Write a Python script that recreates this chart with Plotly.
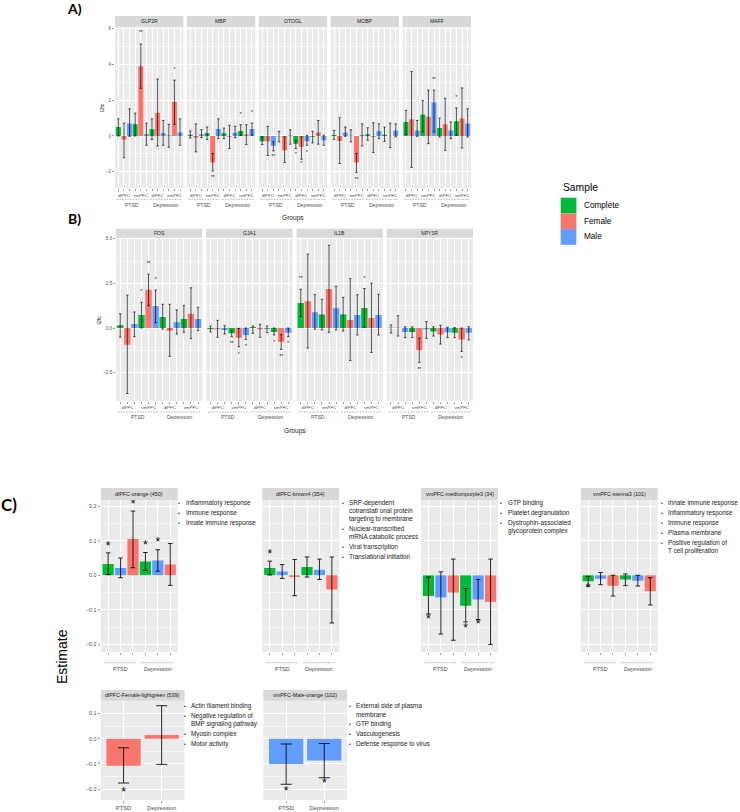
import plotly.graph_objects as go

W, H = 740, 812
FONT = "Liberation Sans, Arial, Helvetica, sans-serif"
PANEL_BG = "#EBEBEB"
STRIP_BG = "#D9D9D9"
TICK_TXT = "#4D4D4D"
COLORS = {"Complete": "#00BA38", "Female": "#F8766D", "Male": "#619CFF"}
LEGEND_ORDER = ["Complete", "Female", "Male"]
GROUP_LABELS = ["PTSD", "Depression"]

# ---------------- Panel A / B shared x layout ----------------
AB_SAMPLES = ["Complete", "Female", "Male"] * 4
AB_REGION_LABELS = ["", "dlPFC", "", "", "vmPFC", "", "", "dlPFC", "", "", "vmPFC", ""]

# ---------------- Panel A data (l2fc, CI low, CI high, significance) ----------------
A_GENES = ["GLP2R", "MBP", "OTOGL", "MOBP", "MAFF"]

GLP2R_L2FC = [0.50, -0.20, 0.70, 0.65, 3.90, 0.10, 0.37, 1.30, 0.15, 0.02, 1.90, 0.20]
GLP2R_LO = [0.00, -1.22, -0.02, 0.00, 2.67, -0.52, -0.20, -0.57, -0.52, -0.63, 0.65, -0.52]
GLP2R_HI = [0.96, 0.72, 1.52, 1.28, 5.15, 0.72, 0.96, 3.19, 0.87, 0.65, 3.13, 0.96]
GLP2R_SIG = ["", "", "", "", "**", "", "", "", "", "", "*", ""]
GLP2R_SIG_Y = [None, None, None, None, 5.75, None, None, None, None, None, 3.72, None]

MBP_L2FC = [0.07, -0.10, 0.10, 0.15, -1.48, 0.39, 0.15, -0.05, 0.18, 0.28, 0.08, 0.39]
MBP_LO = [-0.11, -0.89, -0.09, -0.20, -1.96, -0.15, -0.15, -0.70, -0.10, 0.04, -0.48, 0.04]
MBP_HI = [0.28, 0.68, 0.35, 0.50, -0.98, 0.96, 0.44, 0.60, 0.54, 0.63, 0.63, 0.72]
MBP_SIG = ["", "", "", "", "**", "", "", "", "", "*", "", "*"]
MBP_SIG_Y = [None, None, None, None, -2.37, None, None, None, None, 1.18, None, 1.30]

OTOGL_L2FC = [-0.30, -0.30, -0.55, -0.02, -0.80, 0.02, -0.43, -0.60, -0.30, -0.05, 0.20, -0.24]
OTOGL_LO = [-0.48, -1.09, -0.83, -0.33, -1.48, -0.46, -0.70, -1.30, -0.52, -0.39, -0.46, -0.52]
OTOGL_HI = [-0.05, 0.54, -0.33, 0.26, -0.05, 0.35, -0.24, -0.05, 0.04, 0.26, 0.87, 0.04]
OTOGL_SIG = ["", "", "**", "", "", "", "*", "*", "*", "", "", ""]
OTOGL_SIG_Y = [None, None, -1.17, None, None, None, -1.07, -1.54, -0.94, None, None, None]

MOBP_L2FC = [0.05, -0.28, 0.20, 0.01, -1.48, 0.05, 0.09, -0.05, 0.26, 0.07, 0.01, 0.31]
MOBP_LO = [-0.19, -1.54, -0.02, -0.33, -2.04, -0.56, -0.24, -0.93, -0.15, -0.30, -0.65, -0.05]
MOBP_HI = [0.31, 1.02, 0.50, 0.35, -0.98, 0.68, 0.46, 0.74, 0.68, 0.50, 0.72, 0.68]
MOBP_SIG = ["", "", "", "", "**", "", "", "", "", "", "", ""]
MOBP_SIG_Y = [None, None, None, None, -2.46, None, None, None, None, None, None, None]

MAFF_L2FC = [0.78, 0.93, 0.31, 1.19, 1.07, 1.87, 0.44, 0.65, 0.31, 0.83, 0.98, 0.70]
MAFF_LO = [0.09, -1.76, -0.02, 0.22, -0.43, 0.22, -0.06, -0.80, -0.15, 0.04, -0.67, -0.06]
MAFF_HI = [1.43, 3.61, 0.87, 1.98, 2.57, 2.57, 1.00, 2.11, 0.78, 1.57, 2.69, 1.52]
MAFF_SIG = ["", "", "", "", "", "**", "", "", "", "*", "", ""]
MAFF_SIG_Y = [None, None, None, None, None, 3.15, None, None, None, 2.13, None, None]

# ---------------- Panel B data ----------------
B_GENES = ["FOS", "GJA1", "IL1B", "NPY1R"]

FOS_L2FC = [0.15, -0.94, 0.22, 0.73, 2.15, 1.24, 0.62, -0.15, 0.32, 0.50, 0.80, 0.50]
FOS_LO = [-0.51, -3.67, -0.49, 0.00, 1.25, 0.30, -0.06, -1.59, -0.34, -0.24, -0.60, -0.15]
FOS_HI = [0.80, 1.84, 0.90, 1.44, 3.01, 2.13, 1.33, 1.33, 1.01, 1.27, 2.25, 1.16]
FOS_SIG = ["", "", "", "*", "**", "*", "", "", "", "", "", ""]
FOS_SIG_Y = [None, None, None, 2.00, 3.61, 2.72, None, None, None, None, None, None]

GJA1_L2FC = [-0.07, -0.07, -0.11, -0.30, -0.54, -0.39, 0.06, -0.07, -0.05, -0.22, -0.77, -0.26]
GJA1_LO = [-0.22, -0.52, -0.34, -0.49, -1.05, -0.64, -0.30, -0.52, -0.26, -0.39, -1.20, -0.49]
GJA1_HI = [0.11, 0.43, 0.13, -0.15, -0.02, 0.00, 0.11, 0.21, 0.11, 0.00, -0.37, 0.00]
GJA1_SIG = ["", "", "", "**", "*", "*", "", "", "", "*", "**", "*"]
GJA1_SIG_Y = [None, None, None, -0.88, -1.48, -1.05, None, None, None, -0.86, -1.61, -0.90]

IL1B_L2FC = [1.40, 1.50, 0.88, 0.75, 2.19, 1.10, 0.75, 0.45, 0.73, 1.12, 0.56, 0.73]
IL1B_LO = [0.64, -1.12, -0.07, -0.11, -0.24, -0.11, -0.17, -1.82, -0.39, 0.04, -1.37, -0.39]
IL1B_HI = [2.17, 4.14, 1.87, 1.61, 4.64, 2.34, 1.72, 2.77, 1.87, 2.21, 2.51, 1.89]
IL1B_SIG = ["**", "", "", "", "", "", "", "", "", "*", "", ""]
IL1B_SIG_Y = [2.77, None, None, None, None, None, None, None, None, 2.77, None, None]

NPY1R_L2FC = [0.01, 0.02, -0.22, -0.22, -1.24, -0.07, -0.19, -0.36, -0.24, -0.26, -0.64, -0.26]
NPY1R_LO = [-0.28, -0.45, -0.54, -0.54, -1.93, -0.58, -0.45, -0.90, -0.54, -0.54, -1.31, -0.67]
NPY1R_HI = [0.17, 0.69, 0.07, 0.06, -0.56, 0.36, 0.07, 0.15, 0.04, 0.02, 0.00, 0.07]
NPY1R_SIG = ["", "", "", "", "**", "", "", "", "", "", "*", ""]
NPY1R_SIG_Y = [None, None, None, None, -2.34, None, None, None, None, None, -1.72, None]

# ---------------- Panel C data (module estimates) ----------------
C1_SAMPLES = ["Complete", "Male", "Female"] * 2
C1_MODULES = ["dlPFC-orange (450)", "dlPFC-brown4 (354)", "vmPFC-mediumpurple3 (34)", "vmPFC-sienna3 (101)"]

ORANGE_EST = [0.033, 0.021, 0.105, 0.040, 0.043, 0.031]
ORANGE_LO = [0.002, -0.007, 0.022, 0.014, 0.012, -0.029]
ORANGE_HI = [0.065, 0.050, 0.186, 0.066, 0.074, 0.092]
ORANGE_SIG = ["*", "", "*", "*", "*", ""]
ORANGE_SIG_Y = [0.083, None, 0.205, 0.085, 0.093, None]

BROWN4_EST = [0.021, 0.011, -0.005, 0.024, 0.016, -0.041]
BROWN4_LO = [0.001, -0.009, -0.059, -0.005, -0.012, -0.138]
BROWN4_HI = [0.041, 0.031, 0.046, 0.053, 0.047, 0.053]
BROWN4_SIG = ["*", "", "", "", "", ""]
BROWN4_SIG_Y = [0.059, None, None, None, None, None]

PURPLE3_EST = [-0.060, -0.064, -0.050, -0.088, -0.070, -0.077]
PURPLE3_LO = [-0.112, -0.170, -0.188, -0.135, -0.128, -0.200]
PURPLE3_HI = [-0.005, 0.010, 0.047, -0.038, -0.012, 0.047]
PURPLE3_SIG = ["*", "", "", "*", "*", ""]
PURPLE3_SIG_Y = [-0.130, None, None, -0.155, -0.145, None]

SIENNA3_EST = [-0.017, -0.010, -0.030, -0.012, -0.016, -0.046]
SIENNA3_LO = [-0.031, -0.027, -0.060, -0.030, -0.031, -0.086]
SIENNA3_HI = [-0.003, 0.008, 0.000, 0.004, 0.000, -0.007]
SIENNA3_SIG = ["*", "", "", "", "", ""]
SIENNA3_SIG_Y = [-0.040, None, None, None, None, None]

C2_MODULES = ["dlPFC-Female-lightgreen (539)", "vmPFC-Male-orange (102)"]
C2_SAMPLES = [["Female", "Female"], ["Male", "Male"]]

LIGHTGREEN_EST = [-0.107, 0.015]
LIGHTGREEN_LO = [-0.176, -0.102]
LIGHTGREEN_HI = [-0.036, 0.131]
LIGHTGREEN_SIG = ["*", ""]
LIGHTGREEN_SIG_Y = [-0.215, None]

MALE_ORANGE_EST = [-0.100, -0.087]
MALE_ORANGE_LO = [-0.181, -0.155]
MALE_ORANGE_HI = [-0.021, -0.019]
MALE_ORANGE_SIG = ["*", "*"]
MALE_ORANGE_SIG_Y = [-0.210, -0.181]

C_TERMS = [
    ["Inflammatory response", "Immune response", "Innate immune response"],
    ["SRP-dependent|cotranslati onal protein|targeting to membrane",
     "Nuclear-transcribed|mRNA catabolic process", "Viral transcription",
     "Translational initiation"],
    ["GTP binding", "Platelet degranulation", "Dystrophin-associated|glycoprotein complex"],
    ["Innate immune response", "Inflammatory response", "Immune response",
     "Plasma membrane", "Positive regulation of|T cell proliferation"],
    ["Actin filament binding", "Negative regulation of|BMP signaling pathway",
     "Myosin complex", "Motor activity"],
    ["External side of plasma|membrane", "GTP binding", "Vasculogenesis",
     "Defense response to virus"],
]

# ---------------- helpers ----------------
fig = go.Figure()
layout_axes = {}
shapes = []
annots = []


def px(x):
    return x / W


def py(y):
    return 1 - y / H


def ax_names(n):
    s = "" if n == 1 else str(n)
    return "xaxis" + s, "yaxis" + s, "x" + s, "y" + s


def add_panel(n, left, right, strip_top, plot_top, plot_bottom, title, title_size,
              samples, val, lo, hi, sig, sig_y, sig_size, yrange, ytickvals,
              yminor, show_y, ytick_size, xticktext, xtick_size,
              err_thick, err_w, ytickformat):
    xa, ya, xr, yr = ax_names(n)
    k = len(val)
    xs = list(range(1, k + 1))
    fig.add_trace(go.Bar(
        x=xs, y=val, width=0.9, xaxis=xr, yaxis=yr,
        marker=dict(color=[COLORS[s] for s in samples], line=dict(width=0)),
        error_y=dict(type="data", symmetric=False,
                     array=[h - v for h, v in zip(hi, val)],
                     arrayminus=[v - l for v, l in zip(val, lo)],
                     color="rgba(0,0,0,0.85)", thickness=err_thick, width=err_w),
        showlegend=False, hoverinfo="skip"))
    sx = [x for x, t in zip(xs, sig) if t]
    sy = [y for y, t in zip(sig_y, sig) if t]
    st = [t for t in sig if t]
    if st:
        fig.add_trace(go.Scatter(
            x=sx, y=sy, text=st, mode="text", xaxis=xr, yaxis=yr,
            textposition="middle center",
            textfont=dict(size=sig_size, color="#000000", family=FONT),
            showlegend=False, hoverinfo="skip"))
    layout_axes[xa] = dict(
        domain=[px(left), px(right)], anchor=yr, range=[0.4, k + 0.6],
        tickmode="array", tickvals=xs, ticktext=xticktext,
        ticks="outside", ticklen=2, tickwidth=0.5, tickcolor="#333333",
        tickfont=dict(size=xtick_size, color=TICK_TXT, family=FONT),
        showgrid=True, gridcolor="#FFFFFF", gridwidth=1,
        zeroline=False, showline=False, fixedrange=True)
    layout_axes[ya] = dict(
        domain=[py(plot_bottom), py(plot_top)], anchor=xr, range=yrange,
        tickmode="array", tickvals=ytickvals, tickformat=ytickformat,
        showticklabels=show_y, ticks="outside" if show_y else "",
        ticklen=2, tickwidth=0.5, tickcolor="#333333",
        tickfont=dict(size=ytick_size, color=TICK_TXT, family=FONT),
        showgrid=True, gridcolor="#FFFFFF", gridwidth=1,
        minor=dict(tickmode="array", tickvals=yminor, showgrid=True,
                   gridcolor="#FFFFFF", gridwidth=0.5, ticks=""),
        zeroline=False, showline=False, fixedrange=True)
    shapes.append(dict(type="rect", xref="paper", yref="paper",
                       x0=px(left), x1=px(right), y0=py(plot_top), y1=py(strip_top),
                       fillcolor=STRIP_BG, line=dict(width=0), layer="below"))
    annots.append(dict(xref="paper", yref="paper", x=px((left + right) / 2),
                       y=py((strip_top + plot_top) / 2), text=title, showarrow=False,
                       font=dict(size=title_size, color="#1A1A1A", family=FONT),
                       xanchor="center", yanchor="middle"))


def add_groups(n, centers, spans, y_dash, y_lab, size):
    _, _, xr, _ = ax_names(n)
    for c, (a, b), g in zip(centers, spans, GROUP_LABELS):
        shapes.append(dict(type="line", xref=xr, yref="paper", x0=a, x1=b,
                           y0=py(y_dash), y1=py(y_dash),
                           line=dict(color="#777777", width=0.6, dash="1.5px,1.2px")))
        annots.append(dict(xref=xr, yref="paper", x=c, y=py(y_lab), text=g,
                           showarrow=False, xanchor="center", yanchor="middle",
                           font=dict(size=size, color=TICK_TXT, family=FONT)))


def add_terms(text_x, y0, items, size):
    y = y0
    for item in items:
        lines = item.split("|")
        annots.append(dict(xref="paper", yref="paper", x=px(text_x - 4.3), y=py(y),
                           text="•", showarrow=False, xanchor="center", yanchor="middle",
                           font=dict(size=size * 0.8, color="#1A1A1A", family=FONT)))
        for i, ln in enumerate(lines):
            annots.append(dict(xref="paper", yref="paper", x=px(text_x), y=py(y + 8 * i),
                               text=ln, showarrow=False, xanchor="left", yanchor="middle",
                               font=dict(size=size, color="#1A1A1A", family=FONT)))
        y += 10 + 8 * (len(lines) - 1)


# ---------------- Panel A ----------------
A_DATA = [
    (GLP2R_L2FC, GLP2R_LO, GLP2R_HI, GLP2R_SIG, GLP2R_SIG_Y),
    (MBP_L2FC, MBP_LO, MBP_HI, MBP_SIG, MBP_SIG_Y),
    (OTOGL_L2FC, OTOGL_LO, OTOGL_HI, OTOGL_SIG, OTOGL_SIG_Y),
    (MOBP_L2FC, MOBP_LO, MOBP_HI, MOBP_SIG, MOBP_SIG_Y),
    (MAFF_L2FC, MAFF_LO, MAFF_HI, MAFF_SIG, MAFF_SIG_Y),
]
A_LEFT, A_W, A_GAP = 115.0, 68.4, 3.5
for i, (gene, d) in enumerate(zip(A_GENES, A_DATA)):
    n = 1 + i
    L = A_LEFT + i * (A_W + A_GAP)
    add_panel(n, L, L + A_W, 16.0, 26.7, 188.3, gene, 5.1, AB_SAMPLES,
              d[0], d[1], d[2], d[3], d[4], 4.6, [-2.93, 6.12],
              [-2, 0, 2, 4, 6], [-1, 1, 3, 5], i == 0, 4.5,
              AB_REGION_LABELS, 4.4, 0.8, 1.2, "d")
    add_groups(n, [3.5, 9.5], [(0.7, 6.3), (6.7, 12.3)], 199.3, 204.6, 5.0)

annots.append(dict(xref="paper", yref="paper", x=px(102.5), y=py(107.5), text="l2fc",
                   textangle=-90, showarrow=False, xanchor="center", yanchor="middle",
                   font=dict(size=5.5, color="#1A1A1A", family=FONT)))
annots.append(dict(xref="paper", yref="paper", x=px(293), y=py(218.5), text="Groups",
                   showarrow=False, xanchor="center", yanchor="middle",
                   font=dict(size=6.6, color="#1A1A1A", family=FONT)))

# ---------------- Panel B ----------------
B_DATA = [
    (FOS_L2FC, FOS_LO, FOS_HI, FOS_SIG, FOS_SIG_Y),
    (GJA1_L2FC, GJA1_LO, GJA1_HI, GJA1_SIG, GJA1_SIG_Y),
    (IL1B_L2FC, IL1B_LO, IL1B_HI, IL1B_SIG, IL1B_SIG_Y),
    (NPY1R_L2FC, NPY1R_LO, NPY1R_HI, NPY1R_SIG, NPY1R_SIG_Y),
]
B_LEFT, B_W, B_GAP = 116.0, 86.25, 4.0
B_BOTTOM = 401.0
for i, (gene, d) in enumerate(zip(B_GENES, B_DATA)):
    n = 6 + i
    L = B_LEFT + i * (B_W + B_GAP)
    add_panel(n, L, L + B_W, 228.7, 237.7, B_BOTTOM, gene, 5.1, AB_SAMPLES,
              d[0], d[1], d[2], d[3], d[4], 4.6, [-4.09, 5.06],
              [-2.5, 0, 2.5, 5.0], [-1.25, 1.25, 3.75], i == 0, 4.5,
              AB_REGION_LABELS, 4.4, 0.8, 1.2, ".1f")
    add_groups(n, [3.5, 9.5], [(0.7, 6.3), (6.7, 12.3)], B_BOTTOM + 11.0, B_BOTTOM + 16.3, 5.0)

annots.append(dict(xref="paper", yref="paper", x=px(98.5), y=py(320), text="l2fc",
                   textangle=-90, showarrow=False, xanchor="center", yanchor="middle",
                   font=dict(size=5.5, color="#1A1A1A", family=FONT)))
annots.append(dict(xref="paper", yref="paper", x=px(294.5), y=py(B_BOTTOM + 30.2), text="Groups",
                   showarrow=False, xanchor="center", yanchor="middle",
                   font=dict(size=6.6, color="#1A1A1A", family=FONT)))

# ---------------- Panel C row 1 ----------------
C1_DATA = [
    (ORANGE_EST, ORANGE_LO, ORANGE_HI, ORANGE_SIG, ORANGE_SIG_Y),
    (BROWN4_EST, BROWN4_LO, BROWN4_HI, BROWN4_SIG, BROWN4_SIG_Y),
    (PURPLE3_EST, PURPLE3_LO, PURPLE3_HI, PURPLE3_SIG, PURPLE3_SIG_Y),
    (SIENNA3_EST, SIENNA3_LO, SIENNA3_HI, SIENNA3_SIG, SIENNA3_SIG_Y),
]
C1_LEFTS = [100.7, 262.3, 421.0, 580.7]
C1_W = 77.0
C1_TEXT_X = [183.7, 347.3, 505.7, 666.0]
TERM_SIZE = 6.35
for i, (mod, d) in enumerate(zip(C1_MODULES, C1_DATA)):
    n = 10 + i
    L = C1_LEFTS[i]
    add_panel(n, L, L + C1_W, 488.0, 500.0, 652.0, mod, 5.4, C1_SAMPLES,
              d[0], d[1], d[2], d[3], d[4], 12, [-0.222, 0.218],
              [-0.2, -0.1, 0.0, 0.1, 0.2], [-0.15, -0.05, 0.05, 0.15], i == 0, 5.4,
              [""] * 6, 5.4, 1.0, 2.3, ".1f")
    add_groups(n, [2, 5], [(0.7, 3.3), (3.7, 6.3)], 662.7, 669.0, 5.5)
    add_terms(C1_TEXT_X[i], 502.8, C_TERMS[i], TERM_SIZE)

# ---------------- Panel C row 2 ----------------
C2_DATA = [
    (LIGHTGREEN_EST, LIGHTGREEN_LO, LIGHTGREEN_HI, LIGHTGREEN_SIG, LIGHTGREEN_SIG_Y),
    (MALE_ORANGE_EST, MALE_ORANGE_LO, MALE_ORANGE_HI, MALE_ORANGE_SIG, MALE_ORANGE_SIG_Y),
]
C2_LEFTS = [100.7, 263.3]
C2_W = 83.8
C2_TEXT_X = [189.0, 354.0]
for i, (mod, d) in enumerate(zip(C2_MODULES, C2_DATA)):
    n = 14 + i
    L = C2_LEFTS[i]
    add_panel(n, L, L + C2_W, 690.0, 700.7, 800.0, mod, 5.4, C2_SAMPLES[i],
              d[0], d[1], d[2], d[3], d[4], 12, [-0.2435, 0.151],
              [-0.2, -0.1, 0.0, 0.1], [-0.15, -0.05, 0.05], i == 0, 5.4,
              GROUP_LABELS, 5.8, 1.0, 5.5, ".1f")
    add_terms(C2_TEXT_X[i], 706.0, C_TERMS[4 + i], TERM_SIZE)

annots.append(dict(xref="paper", yref="paper", x=px(62), y=py(657), text="Estimate",
                   textangle=-90, showarrow=False, xanchor="center", yanchor="middle",
                   font=dict(size=14, color="#000000", family=FONT)))

# ---------------- panel letters ----------------
for txt, x, y, s in [("A)", 74, 8.5, 14), ("B)", 74, 219, 14), ("C)", 8.5, 504, 17)]:
    annots.append(dict(xref="paper", yref="paper", x=px(x), y=py(y), text="<b>" + txt + "</b>",
                       showarrow=False, xanchor="center", yanchor="middle",
                       font=dict(size=s, color="#000000", family="Lato, Liberation Sans, sans-serif")))

# ---------------- legend (Sample) ----------------
annots.append(dict(xref="paper", yref="paper", x=px(560.7), y=py(187.3), text="Sample",
                   showarrow=False, xanchor="left", yanchor="middle",
                   font=dict(size=10.3, color="#000000", family=FONT)))
for j, s in enumerate(LEGEND_ORDER):
    top = 197.7 + 15.7 * j
    shapes.append(dict(type="rect", xref="paper", yref="paper",
                       x0=px(560.7), x1=px(576.4), y0=py(top + 15.7), y1=py(top),
                       fillcolor=COLORS[s], line=dict(width=0)))
    annots.append(dict(xref="paper", yref="paper", x=px(581.7), y=py(top + 7.85), text=s,
                       showarrow=False, xanchor="left", yanchor="middle",
                       font=dict(size=8.2, color="#000000", family=FONT)))

fig.update_layout(
    width=W, height=H, autosize=False,
    margin=dict(l=0, r=0, t=0, b=0),
    paper_bgcolor="#FFFFFF", plot_bgcolor=PANEL_BG,
    showlegend=False, font=dict(family=FONT),
    shapes=shapes, annotations=annots, **layout_axes)

fig.write_html("out.html", config={"displayModeBar": False, "staticPlot": True},
               post_script="document.body.style.margin='0';document.body.style.overflow='hidden';")
